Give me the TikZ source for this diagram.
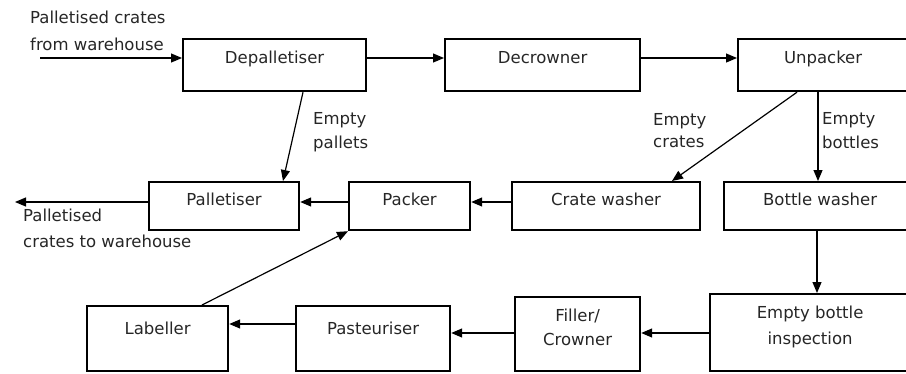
\documentclass[tikz,border=0pt]{standalone}
\usepackage{fontspec}
\setmainfont{DejaVu Sans}
\usetikzlibrary{arrows.meta}
\tikzset{
  unit/.style  = {draw, line width=2.2pt, anchor=north west, inner sep=0pt,
          align=center},
  flow/.style  = {-{Triangle[length=11pt,width=9pt]}, line width=1.2pt},
  note/.style  = {inner sep=0pt, align=left, anchor=base west}
}

\begin{document}
\begin{tikzpicture}
  [
    x                 = 1pt,
    y                 = -1pt,
    every node/.style = {font=\fontsize{16.5}{24}\selectfont, text=black!85}
  ]
  \useasboundingbox (0,0) rectangle (906,373);

  % top row
  \node [unit, minimum width=183pt, text height=24pt, text depth=28pt]
    (depal) at (182,38) {Depalletiser};
  \node [unit, minimum width=195pt, text height=24pt, text depth=28pt]
    (decrown) at (444,38) {Decrowner};
  \node [unit, minimum width=170pt, text height=24pt, text depth=28pt]
    (unpack) at (737,38) {Unpacker};

  % middle row
  \node [unit, minimum width=150pt, text height=23pt, text depth=25pt]
    (pallet) at (148,181) {Palletiser};
  \node [unit, minimum width=121pt, text height=23pt, text depth=25pt]
    (pack) at (348,181) {Packer};
  \node [unit, minimum width=188pt, text height=23pt, text depth=25pt]
    (cratew) at (511,181) {Crate washer};
  \node [unit, minimum width=192pt, text height=23pt, text depth=25pt]
    (bottlew) at (723,181) {Bottle washer};

  % bottom row
  \node [unit, minimum width=141pt, text height=28pt, text depth=37pt]
    (labeller) at (86,305) {Labeller};
  \node [unit, minimum width=154pt, text height=28pt, text depth=37pt]
    (pasteur) at (295,305) {Pasteuriser};
  \node [unit, minimum width=125pt, text height=48pt, text depth=26pt]
    (filler) at (514,296) {Filler/\\Crowner};
  \node [unit, minimum width=200pt, text height=50pt, text depth=27pt]
    (inspect) at (709,293) {Empty bottle\\[2pt]inspection};

  % free ends
  \coordinate (in)  at (40,58);
  \coordinate (out) at (15,202);

  % crates in, pallets and crates out
  \draw [flow] (in) -- (in -| depal.west);
  \draw [flow] ([yshift=-20pt]depal.north east) -- ([yshift=-20pt]decrown.north west);
  \draw [flow] ([yshift=-20pt]decrown.north east) -- ([yshift=-20pt]unpack.north west);
  \draw [flow] ([xshift=121pt]depal.south west) -- ([xshift=135pt]pallet.north west);
  \draw [flow] ([xshift=60pt]unpack.south west) -- ([xshift=161pt]cratew.north west);
  \draw [flow] ([xshift=81pt]unpack.south west) coordinate (ub) -- (ub |- bottlew.north);
  \draw [flow] ([yshift=-21pt]cratew.north west) -- ([yshift=-21pt]pack.north east);
  \draw [flow] ([yshift=-21pt]pack.north west) -- ([yshift=-21pt]pallet.north east);
  \draw [flow] ([yshift=-21pt]pallet.north west) -- (out);

  % bottle line
  \draw [flow] ([xshift=94pt]bottlew.south west) coordinate (bi) -- (bi |- inspect.north);
  \draw [flow] ([yshift=-40pt]inspect.north west) coordinate (fi) -- (fi -| filler.east);
  \draw [flow] ([yshift=-37pt]filler.north west) coordinate (pf) -- (pf -| pasteur.east);
  \draw [flow] ([yshift=-19pt]pasteur.north west) -- ([yshift=-19pt]labeller.north east);
  \draw [flow] ([xshift=116pt]labeller.north west) -- (pack.south west);

  % flow labels
  \node [note] (srctext)  at (30,50)  {Palletised crates\\[3pt]from warehouse};
  \node [note] (sinktext) at (23,247) {Palletised\\[2pt]crates to warehouse};
  \node [note] (pallets)  at (313,148) {Empty\\pallets};
  \node [note] (crates)   at (653,147) {Empty\\[-2pt]crates};
  \node [note] (bottles)  at (822,148) {Empty\\bottles};
\end{tikzpicture}
\end{document}
